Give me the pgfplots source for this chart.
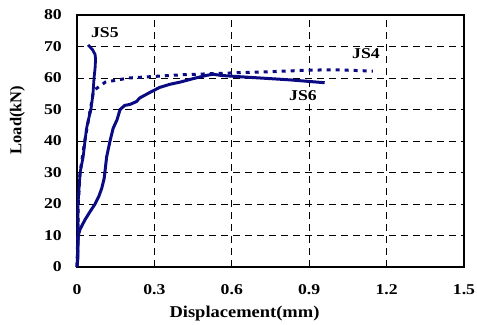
\documentclass[border=0pt]{standalone}
\usepackage{pgfplots}
\pgfplotsset{compat=1.18}
\usepackage{fontspec}
\setmainfont{Liberation Serif}[FakeStretch=1.18]
\newfontfamily\xlabfont{Liberation Serif}[FakeStretch=1.12]
\newfontfamily\ylabfont{Liberation Serif}
\definecolor{navy}{RGB}{10,10,130}
\begin{document}
\fontsize{15}{17}\selectfont\bfseries
\begin{tikzpicture}
\begin{axis}[name=ax,
  scale only axis, width=387pt, height=252pt,
  xmin=0, xmax=1.5, ymin=0, ymax=80,
  xtick={0,0.3,0.6,0.9,1.2,1.5}, ytick={0,10,...,80},
  xticklabels={0,0.3,0.6,0.9,1.2,1.5},
  major tick length=0pt,
  /pgf/number format/assume math mode=true,
  ticklabel style={font=\fontsize{15}{17}\selectfont\bfseries},
  xticklabel shift=12pt, yticklabel shift=10pt,
  grid=major,
  major grid style={black, line width=0.7pt, dash pattern=on 7pt off 5pt},
  axis line style={black, line width=1.2pt},
  xlabel={Displacement(mm)}, ylabel={Load(kN)},
  xlabel style={font=\xlabfont\fontsize{16.5}{18}\selectfont\bfseries, at={(axis description cs:0.5,0)}, anchor=north, yshift=-34pt, xshift=-26pt},
  ylabel style={font=\ylabfont\fontsize{16.5}{18}\selectfont\bfseries, at={(axis description cs:0,0.583)}, anchor=south, rotate=0, yshift=47pt},
  clip=false,
]
\addplot[navy, line width=2.8pt] coordinates {
(0,0) (0.004,3) (0.003,6) (0.005,10) (0.004,15) (0.004,20) (0.008,25) (0.012,30) (0.024,35) (0.031,40) (0.037,44) (0.045,47) (0.054,50) (0.062,55) (0.066,60) (0.07,63) (0.072,66) (0.07,67.5) (0.06,69) (0.043,70.5)};
\addplot[navy, line width=3pt, dash pattern=on 4pt off 5pt] coordinates {
(0,0) (0.003,10) (0.005,20) (0.012,30) (0.03,40) (0.045,47) (0.056,52) (0.064,56) (0.11,58.7) (0.2,60) (0.3,60.5) (0.4,61) (0.5,61.3) (0.63,61.7) (0.75,62) (0.9,62.5) (1.0,62.6) (1.147,62.2)};
\addplot[navy, line width=3pt] coordinates {
(0,0) (0.003,5) (0.005,10) (0.012,12) (0.031,15) (0.05,17.5) (0.07,20) (0.085,22.5) (0.096,25) (0.105,28) (0.108,30) (0.115,35) (0.128,40) (0.14,44) (0.155,46.7) (0.167,50) (0.185,51.3) (0.205,51.6) (0.23,52.5) (0.244,53.7) (0.28,55.3) (0.32,57) (0.36,58) (0.4,58.7) (0.45,59.8) (0.5,60.8) (0.527,61.2) (0.56,60.8) (0.632,60.4) (0.73,59.9) (0.826,59.4) (0.96,58.5)};
\node at (axis cs:0.108,74.3) {JS5};
\node at (axis cs:1.12,67.6) {JS4};
\node at (axis cs:0.876,54.3) {JS6};
\end{axis}
\pgfresetboundingbox
\path[use as bounding box] ([shift={(-77pt,-58pt)}]ax.south west) rectangle ([shift={(13pt,15pt)}]ax.north east);
\end{tikzpicture}
\end{document}
